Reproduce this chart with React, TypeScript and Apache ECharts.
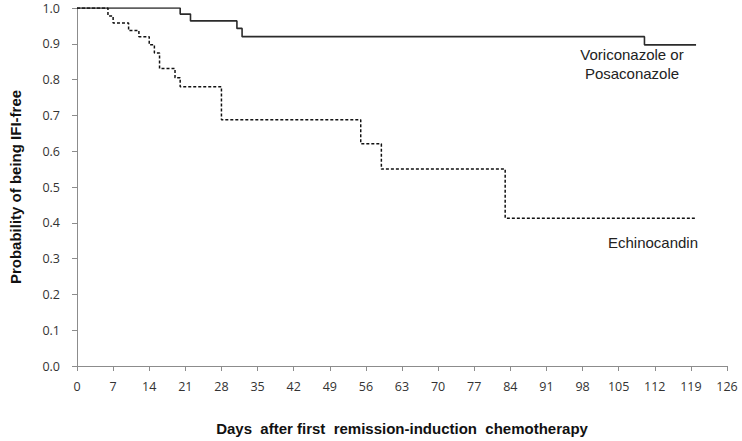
import React, { useEffect, useRef } from "react";
import * as echarts from "echarts";

// Kaplan-Meier step data (day, probability after event)
const voriDays = [0, 20, 22, 31, 32, 110, 120];
const voriProb = [1.0, 0.983, 0.964, 0.943, 0.92, 0.897, 0.897];

const echinoDays = [0, 6, 7, 10, 12, 14, 15, 16, 19, 20, 28, 55, 59, 83, 120];
const echinoProb = [1.0, 0.978, 0.958, 0.937, 0.92, 0.897, 0.874, 0.831, 0.805, 0.78, 0.688, 0.621, 0.55, 0.413, 0.413];

const xTicksMax = 126;
const xTickStep = 7;
const yTickStep = 0.1;

const xTitle = "Days  after first  remission-induction  chemotherapy";
const yTitle = "Probability of being IFI-free";
const voriLabel = ["Voriconazole or", "Posaconazole"];
const echinoLabel = "Echinocandin";

export default function App() {
  const ref = useRef<HTMLDivElement>(null);
  useEffect(() => {
    if (!ref.current) return;
    const chart = echarts.init(ref.current, null, { renderer: "svg" });
    const axisColor = "#8c8c8c";
    const tickFont = { fontFamily: "Open Sans", fontSize: 12.5, color: "#333" };
    chart.setOption({
      animation: false,
      backgroundColor: "#fff",
      grid: { left: 73, right: 15, top: 8, bottom: 74, containLabel: false },
      xAxis: {
        type: "value",
        min: 0,
        max: xTicksMax,
        interval: xTickStep,
        name: xTitle,
        nameLocation: "middle",
        nameGap: 55,
        nameTextStyle: { fontFamily: "Liberation Sans", fontWeight: "bold", fontSize: 15, color: "#111" },
        axisLine: { show: true, onZero: false, lineStyle: { color: axisColor, width: 1 } },
        axisTick: { show: true, length: 5, lineStyle: { color: axisColor } },
        axisLabel: { ...tickFont, margin: 14 },
        splitLine: { show: false },
      },
      yAxis: {
        type: "value",
        min: 0,
        max: 1,
        interval: yTickStep,
        name: yTitle,
        nameLocation: "middle",
        nameGap: 54,
        nameTextStyle: { fontFamily: "Liberation Sans", fontWeight: "bold", fontSize: 15, color: "#111" },
        axisLine: { show: true, lineStyle: { color: axisColor, width: 1 } },
        axisTick: { show: true, length: 5, lineStyle: { color: axisColor } },
        axisLabel: { ...tickFont, margin: 17, formatter: (v: number) => v.toFixed(1) },
        splitLine: { show: false },
      },
      series: [
        {
          name: "Voriconazole or Posaconazole",
          type: "line",
          step: "end",
          symbol: "none",
          data: voriDays.map((d, i) => [d, voriProb[i]]),
          lineStyle: { color: "#2b2b2b", width: 1.6, type: "solid" },
        },
        {
          name: "Echinocandin",
          type: "line",
          step: "end",
          symbol: "none",
          data: echinoDays.map((d, i) => [d, echinoProb[i]]),
          lineStyle: { color: "#111", width: 1.5, type: [3, 2] },
        },
      ],
      graphic: [
        {
          type: "text",
          x: 632,
          y: 64,
          style: {
            text: voriLabel.join("\n"),
            fontFamily: "Liberation Sans",
            fontSize: 15,
            lineHeight: 19,
            fill: "#222",
            align: "center",
            verticalAlign: "middle",
          },
        },
        {
          type: "text",
          x: 653,
          y: 242,
          style: {
            text: echinoLabel,
            fontFamily: "Liberation Sans",
            fontSize: 15,
            fill: "#222",
            align: "center",
            verticalAlign: "middle",
          },
        },
      ],
    });
    return () => chart.dispose();
  }, []);
  return <div ref={ref} style={{ width: 742, height: 441, position: "absolute", left: 0, top: 0 }} />;
}
